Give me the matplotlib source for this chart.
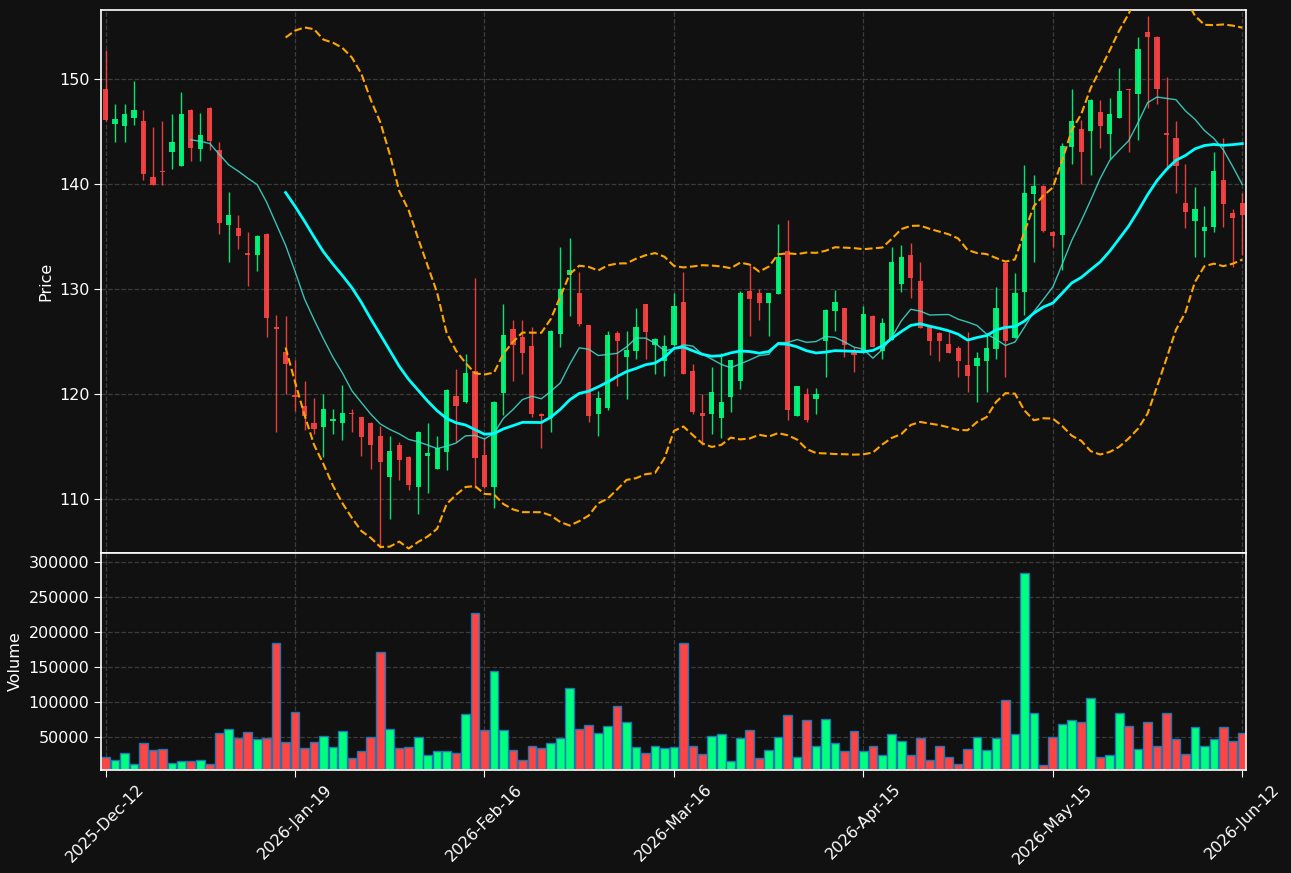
import numpy as np
import pandas as pd
import matplotlib
matplotlib.use("Agg")
import matplotlib.pyplot as plt
from matplotlib.ticker import ScalarFormatter, MultipleLocator

# daily OHLC + volume
opens = [149.0, 145.75, 145.55, 146.3, 146.0, 140.67, 141.25, 143.0, 141.75, 147.05,
         143.36, 147.25, 143.25, 136.1, 135.8, 133.45, 133.2, 135.25, 126.4, 124.0,
         119.85, 118.9, 117.2, 116.9, 117.4, 117.2, 118.2, 117.8, 117.25, 116.0,
         112.1, 115.15, 114.0, 111.1, 114.1, 112.9, 114.5, 119.8, 119.2, 122.2,
         114.2, 111.1, 120.1, 126.2, 125.45, 124.55, 118.05, 117.75, 125.75, 131.35,
         129.6, 126.55, 118.1, 118.7, 125.8, 123.55, 124.1, 128.55, 124.65, 123.15,
         124.7, 128.75, 122.2, 118.2, 118.1, 117.75, 119.75, 121.2, 129.8, 129.6,
         128.7, 129.55, 133.6, 117.95, 120.0, 119.55, 125.0, 127.95, 128.2, 124.0,
         124.0, 127.45, 124.1, 125.15, 130.5, 133.25, 130.75, 126.4, 125.85, 124.8,
         124.4, 122.75, 122.7, 123.15, 124.3, 132.5, 125.35, 129.75, 139.0, 139.85,
         135.45, 135.15, 143.55, 145.25, 145.0, 146.85, 144.8, 146.3, 149.0, 148.6,
         154.5, 154.0, 144.8, 144.4, 138.2, 136.5, 135.55, 135.95, 140.4, 137.25,
         138.2]
highs = [152.8, 147.6, 147.6, 149.8, 147.05, 145.4, 146.0, 146.65, 148.8, 147.1,
         146.8, 147.3, 144.0, 139.2, 137.0, 135.4, 135.1, 135.3, 127.55, 127.45,
         123.2, 121.2, 119.6, 120.0, 118.55, 120.9, 118.55, 117.85, 117.3, 116.95,
         116.0, 115.4, 114.05, 116.45, 117.2, 116.0, 120.45, 122.35, 123.8, 131.0,
         115.8, 119.3, 128.6, 127.05, 127.05, 126.35, 118.2, 126.05, 134.0, 134.85,
         131.6, 126.6, 120.3, 126.0, 126.0, 126.0, 128.15, 128.6, 125.3, 125.6,
         129.6, 131.6, 122.9, 120.0, 122.55, 123.95, 123.25, 129.85, 132.35, 130.0,
         129.65, 136.15, 136.55, 120.8, 120.55, 120.55, 128.05, 129.95, 128.2, 124.5,
         128.4, 127.5, 127.25, 134.0, 134.15, 134.35, 132.55, 126.45, 125.95, 125.95,
         124.6, 125.95, 124.0, 125.85, 130.2, 132.55, 131.55, 141.8, 140.85, 139.9,
         135.5, 143.9, 149.0, 146.1, 148.05, 147.95, 148.15, 151.0, 149.0, 153.95,
         156.0, 154.05, 150.15, 146.0, 141.95, 139.75, 137.95, 143.0, 144.4, 137.6,
         139.1]
lows = [146.0, 144.0, 144.0, 145.6, 140.4, 139.9, 139.9, 141.4, 141.7, 142.2,
        142.2, 143.2, 135.2, 132.55, 133.8, 130.3, 131.75, 125.4, 116.4, 120.0,
        118.35, 116.55, 116.2, 114.0, 116.15, 115.6, 116.35, 114.1, 112.9, 105.3,
        108.1, 111.8, 110.9, 108.55, 110.55, 112.85, 112.75, 115.4, 119.1, 111.05,
        111.0, 109.1, 118.0, 121.2, 121.95, 117.8, 114.9, 116.35, 124.5, 127.4,
        126.5, 117.35, 116.0, 118.5, 120.75, 119.55, 123.35, 123.35, 121.95, 121.75,
        124.6, 121.9, 118.1, 115.1, 116.15, 115.8, 118.3, 120.5, 125.55, 127.0,
        125.55, 129.5, 117.55, 117.9, 117.35, 118.1, 121.6, 126.0, 123.55, 122.1,
        123.9, 124.45, 123.35, 125.1, 129.75, 129.15, 126.3, 123.75, 123.15, 123.9,
        121.6, 120.2, 119.2, 120.2, 123.35, 121.6, 125.3, 127.55, 132.55, 135.4,
        134.0, 131.8, 141.95, 140.0, 140.85, 143.4, 142.35, 146.3, 143.0, 144.2,
        147.2, 147.6, 141.65, 139.1, 135.8, 133.0, 133.0, 135.4, 135.95, 132.1,
        133.2]
closes = [146.1, 146.2, 146.65, 147.05, 140.95, 139.93, 141.15, 144.0, 146.65, 143.4,
          144.67, 144.1, 136.3, 137.05, 135.0, 133.2, 135.05, 127.2, 126.15, 122.9,
          119.75, 117.95, 116.7, 118.55, 117.6, 118.2, 118.1, 115.95, 115.1, 113.55,
          114.55, 113.75, 111.35, 116.4, 114.4, 114.85, 120.4, 118.9, 122.0, 113.95,
          111.1, 119.25, 125.6, 124.65, 123.9, 118.1, 117.95, 126.0, 130.0, 131.8,
          126.7, 117.95, 119.6, 125.6, 125.0, 124.2, 126.4, 125.95, 125.25, 124.55,
          128.4, 121.95, 118.3, 117.95, 120.2, 119.25, 123.2, 129.6, 129.0, 128.7,
          129.6, 133.05, 118.5, 120.75, 117.55, 120.0, 128.0, 128.75, 124.7, 123.75,
          127.6, 124.5, 126.75, 132.55, 133.05, 131.0, 126.3, 125.0, 125.0, 123.95,
          123.15, 121.75, 123.45, 124.4, 128.2, 125.0, 129.6, 139.1, 139.85, 135.55,
          135.0, 143.6, 146.0, 143.0, 148.0, 145.55, 146.65, 148.85, 148.95, 152.85,
          153.95, 149.0, 144.7, 141.75, 137.35, 137.6, 135.95, 141.25, 138.1, 136.8,
          137.0]
volumes = [21400, 17100, 27100, 11400, 41400, 31400, 32900, 12900, 15700, 15200,
           17100, 11400, 55100, 61400, 48600, 56600, 47100, 48600, 184300, 42900,
           85700, 34300, 42900, 51400, 35700, 58600, 20000, 30000, 50000, 171400,
           61400, 34300, 35700, 50000, 24300, 30000, 30000, 27100, 82900, 227100,
           60000, 144300, 60000, 31400, 17100, 37100, 34300, 41400, 48600, 120000,
           61400, 67100, 55700, 65700, 94300, 71400, 35700, 27100, 37100, 34300,
           35700, 184300, 37100, 25700, 51400, 54300, 15700, 48600, 60000, 20000,
           31400, 50000, 81400, 21400, 74300, 37100, 75700, 41400, 30000, 58600,
           30000, 37100, 24300, 54300, 44300, 24300, 48600, 17100, 37100, 21400,
           11400, 32900, 50000, 31400, 48600, 102900, 54300, 284300, 84300, 10000,
           50000, 68600, 74300, 71400, 105700, 21400, 24300, 84300, 65700, 32900,
           71400, 37100, 84300, 47100, 25700, 64300, 37100, 47100, 64300, 44300,
           55700]

tick_pos = [0, 20, 40, 60, 80, 100, 120]
tick_labels = ["2025-Dec-12", "2026-Jan-19", "2026-Feb-16", "2026-Mar-16",
               "2026-Apr-15", "2026-May-15", "2026-Jun-12"]

bg = "#111111"
up_col = "#00ff7f"
down_col = "#ff4444"

o = np.array(opens)
h = np.array(highs)
l = np.array(lows)
c = np.array(closes)
v = np.array(volumes)
x = np.arange(len(c))
up = c >= o
cols = np.where(up, up_col, down_col)

close_s = pd.Series(c)
ma10 = close_s.rolling(10).mean()
ma20 = close_s.rolling(20).mean()
sd20 = close_s.rolling(20).std()
bb_up = ma20 + 2 * sd20
bb_dn = ma20 - 2 * sd20

fig = plt.figure(figsize=(12.91, 8.73), dpi=100, facecolor=bg)
ax = fig.add_axes([0.0785, 0.3666, 0.8867, 0.6216], facecolor=bg)
axv = fig.add_axes([0.0785, 0.118, 0.8867, 0.2486], facecolor=bg, sharex=ax)

# candles
ax.vlines(x, l, h, colors=cols, linewidth=1.0, alpha=0.9, zorder=2)
body = np.maximum(np.abs(c - o), 0.12)
ax.bar(x, body, bottom=np.minimum(o, c), width=0.55, color=cols, alpha=0.9,
       linewidth=0, zorder=3)

ax.plot(x, ma10, color="turquoise", linewidth=1.0, alpha=0.85, zorder=4)
ax.plot(x, ma20, color="cyan", linewidth=2.0, zorder=4)
ax.plot(x, bb_up, color="orange", linewidth=1.5, linestyle="--", zorder=4)
ax.plot(x, bb_dn, color="orange", linewidth=1.5, linestyle="--", zorder=4)

ax.set_ylim(104.86, 156.54)
ax.set_xlim(-0.45, 120.4)
ax.set_ylabel("Price", color="white", fontsize=11.5)

# volume
axv.bar(x, v, width=0.92, color=cols, edgecolor="#1f77b4", linewidth=1.0)
axv.set_ylim(0.3 * v.min(), 1.1 * v.max())
axv.set_ylabel("Volume", color="white", fontsize=11.5)
axv.yaxis.set_major_locator(MultipleLocator(50000))
fmt = ScalarFormatter(useOffset=False)
fmt.set_scientific(False)
axv.yaxis.set_major_formatter(fmt)

axv.set_xticks(tick_pos)
axv.set_xticklabels(tick_labels, rotation=45)
plt.setp(ax.get_xticklabels(), visible=False)

for a in (ax, axv):
    a.grid(True, linestyle="--", color="#3c3c3c", linewidth=0.9)
    a.set_axisbelow(True)
    a.tick_params(colors="white", labelsize=11.5, length=5)
    for s in a.spines.values():
        s.set_color("white")
        s.set_linewidth(1.2)
ax.tick_params(axis="x", length=0)

fig.savefig("out.png", dpi=100, facecolor=bg)
